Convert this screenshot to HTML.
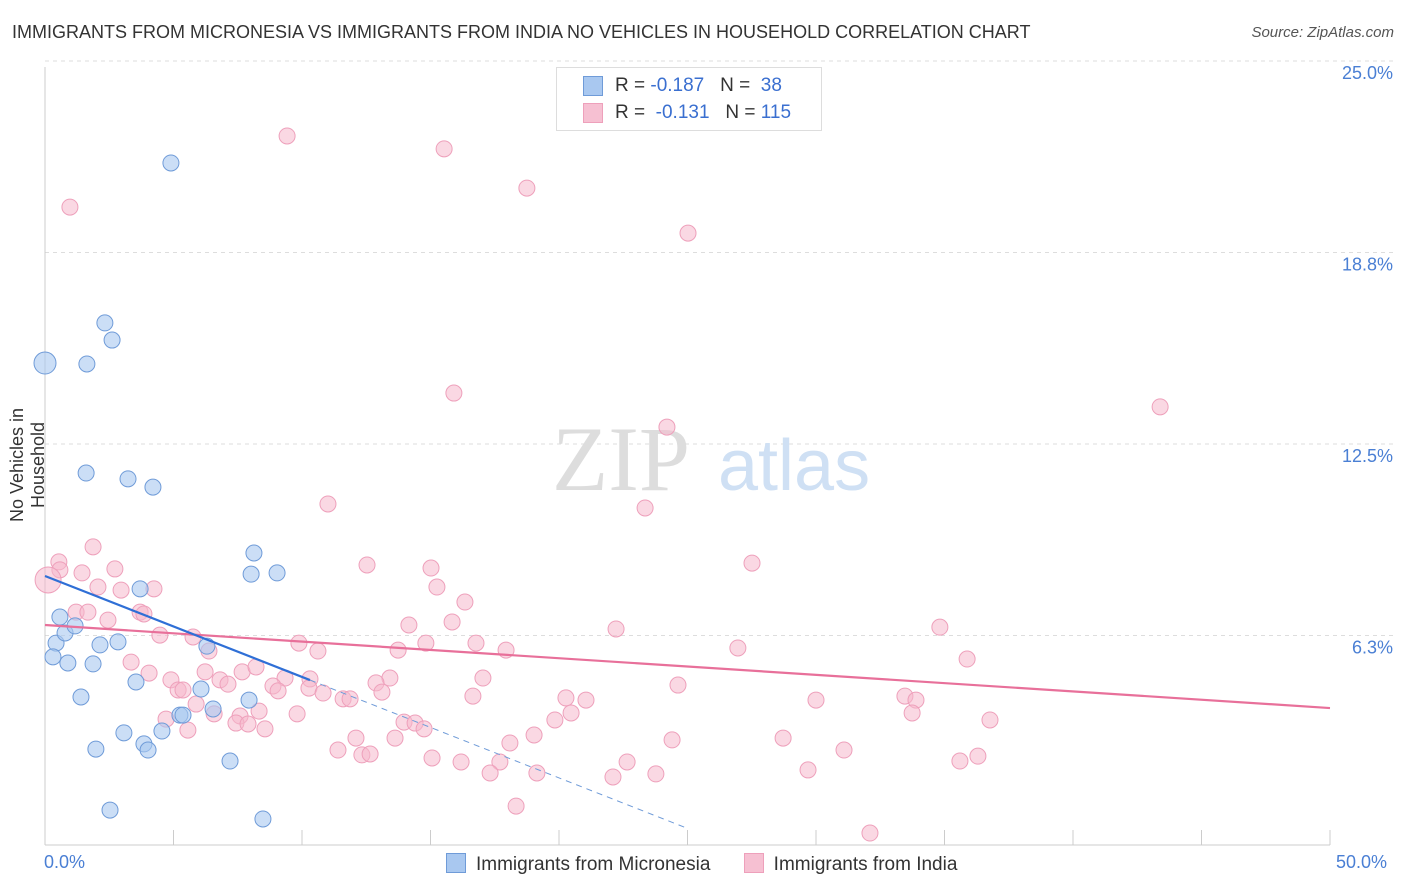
<!DOCTYPE html>
<html><head><meta charset="utf-8"><style>
body{margin:0;background:#fff;font-family:"Liberation Sans",sans-serif;}
#wrap{position:relative;width:1406px;height:892px;overflow:hidden;}
.title{position:absolute;left:12px;top:22px;font-size:18px;color:#333;}
.source{position:absolute;right:12px;top:24px;font-size:15px;color:#555;font-style:italic;}
</style></head><body>
<div id="wrap">
<div class="title">IMMIGRANTS FROM MICRONESIA VS IMMIGRANTS FROM INDIA NO VEHICLES IN HOUSEHOLD CORRELATION CHART</div>
<div class="source">Source: ZipAtlas.com</div>
<svg id="svg" width="1406" height="892" style="position:absolute;left:0;top:0"></svg>
</div>
<script>
const yTicks=[6.25,12.5,18.75,25];
const yTickLabels=["6.3%","12.5%","18.8%","25.0%"];
const xTickVals=[0,5,10,15,20,25,30,35,40,45,50];
const blueX=[0,4.9,2.33,2.61,1.63,1.6,3.23,4.2,8.13,8.02,9.03,3.7,0.58,0.43,0.78,1.17,2.14,2.84,6.3,0.31,0.89,1.87,3.54,6.07,1.4,7.94,6.54,5.25,5.37,3.07,4.55,3.85,4.01,1.98,7.2,2.53,8.48];
const blueY=[15.73,22.26,17.04,16.48,15.7,12.14,11.95,11.68,9.53,8.84,8.88,8.36,7.44,6.59,6.92,7.15,6.53,6.63,6.49,6.14,5.94,5.91,5.32,5.09,4.83,4.73,4.44,4.24,4.24,3.66,3.72,3.3,3.1,3.13,2.74,1.14,0.85];
const pinkX=[9.42,15.53,0.97,18.75,25.02,15.91,43.39,24.2,23.35,11.01,1.87,0.54,0.58,0.12,1.44,2.72,12.53,15.02,27.51,4.24,2.06,2.96,15.25,16.34,1.21,1.67,2.45,3.7,3.85,14.16,15.84,22.22,34.82,4.47,5.76,9.88,14.82,16.77,6.38,10.62,13.74,17.94,26.96,3.35,4.05,7.67,8.21,35.88,6.23,9.34,4.9,5.18,5.37,6.81,7.12,8.87,9.07,10.31,10.27,10.82,13.42,12.88,17.04,13.11,24.63,11.6,11.87,16.65,20.27,21.05,30,33.46,33.89,5.88,6.58,7.59,8.33,9.81,4.71,5.56,7.43,7.9,8.56,13.97,14.4,14.75,19.84,20.47,33.74,36.77,12.1,13.62,18.09,19.03,24.4,28.72,11.4,12.33,12.65,31.09,15.06,16.19,17.7,22.65,36.3,35.6,17.32,19.14,22.1,23.77,29.69,18.33,32.1];
const pinkY=[23.14,22.72,20.82,21.44,19.97,14.75,14.3,13.64,11,11.13,9.73,9.24,8.98,8.65,8.88,9.01,9.14,9.04,9.2,8.36,8.42,8.32,8.42,7.93,7.6,7.6,7.34,7.6,7.54,7.18,7.28,7.05,7.11,6.85,6.79,6.59,6.59,6.59,6.33,6.33,6.36,6.36,6.43,5.97,5.61,5.65,5.81,6.07,5.65,5.45,5.39,5.06,5.06,5.39,5.25,5.19,5.03,5.42,5.12,4.96,5.45,5.29,5.45,4.99,5.22,4.77,4.77,4.86,4.8,4.73,4.73,4.86,4.73,4.6,4.28,4.21,4.37,4.28,4.11,3.75,3.98,3.95,3.79,4.01,3.98,3.79,4.08,4.31,4.31,4.08,3.49,3.49,3.33,3.59,3.43,3.49,3.1,2.94,2.97,3.1,2.84,2.71,2.71,2.71,2.9,2.74,2.35,2.35,2.22,2.32,2.45,1.27,0.39];
const blueLine=[8.78,-0.3295]; // intercept, slope
const blueSolidEnd=10.31, blueDashEnd=25.04;
const pinkLine=[7.18,-0.0542];
const NS="http://www.w3.org/2000/svg";
const svg=document.getElementById('svg');
const X=v=>45+v*25.7, Y=v=>845-v*30.64;
function mk(tag,attrs,parent){const e=document.createElementNS(NS,tag);for(const k in attrs)e.setAttribute(k,attrs[k]);(parent||svg).appendChild(e);return e;}
// gridlines
yTicks.forEach((t,i)=>{
 const g=mk('line',{x1:45,x2:1395,y1:Y(t)-18,y2:Y(t)-18,stroke:'#ddd','stroke-dasharray':'4,4'});
 
 
 const l=mk('text',{x:1393,y:Y(t),'text-anchor':'end','font-size':18,fill:'#4a7fd4','font-family':'Liberation Sans'});
 l.textContent=yTickLabels[i];
 
 
});
mk('line',{x1:45,x2:45,y1:67,y2:845,stroke:'#ccc'});
mk('line',{x1:45,x2:1330,y1:845,y2:845,stroke:'#ccc'});
xTickVals.forEach(t=>{const k=mk('line',{x1:X(t),x2:X(t),y1:830,y2:845,stroke:'#ccc'});
 
 });
// watermark
const w=mk('text',{x:690,y:490,'text-anchor':'end','font-size':92,fill:'#ddd','font-family':'Liberation Serif'});w.textContent='ZIP';


const w2=mk('text',{x:718,y:490,'font-size':72,fill:'#cfe0f4','font-family':'Liberation Sans'});w2.textContent='atlas';


// points
pinkX.forEach((x,i)=>{const c=mk('circle',{cx:X(x),cy:Y(pinkY[i]),r:i==13?13:8,fill:'rgba(246,184,204,0.55)',stroke:'#eea0bb','stroke-width':1});
 
 });
blueX.forEach((x,i)=>{const c=mk('circle',{cx:X(x),cy:Y(blueY[i]),r:i==0?11:8,fill:'rgba(169,200,240,0.6)',stroke:'#6f9bd8','stroke-width':1});
 
 });
// regression lines
const pl=mk('line',{x1:X(0),y1:Y(pinkLine[0]),x2:X(50),y2:Y(pinkLine[0]+pinkLine[1]*50),stroke:'#e8709a','stroke-width':2.2});


const bl=mk('line',{x1:X(0),y1:Y(blueLine[0]),x2:X(blueSolidEnd),y2:Y(blueLine[0]+blueLine[1]*blueSolidEnd),stroke:'#2f6fd6','stroke-width':2.2});


const bd=mk('line',{x1:X(blueSolidEnd),y1:Y(blueLine[0]+blueLine[1]*blueSolidEnd),x2:X(blueDashEnd),y2:Y(blueLine[0]+blueLine[1]*blueDashEnd),stroke:'#6f9bd8','stroke-width':1,'stroke-dasharray':'6,5'});


</script>
<div style="position:absolute;left:44px;top:852px;font-size:18px;color:#4a7fd4;">0.0%</div>
<div style="position:absolute;left:1336px;top:852px;font-size:18px;color:#4a7fd4;">50.0%</div>
<div style="position:absolute;left:-72px;top:444px;width:200px;transform:rotate(-90deg);font-size:18px;color:#333;text-align:center;">No Vehicles in Household</div>
<div style="position:absolute;left:556px;top:67px;width:264px;height:62px;border:1px solid #ddd;background:#fff;font-size:19px;color:#333;">
 <div style="position:absolute;left:26px;top:8px;width:18px;height:18px;background:#a9c8f0;border:1px solid #6f9bd8"></div>
 <div style="position:absolute;left:58px;top:7px;">R = <span style="color:#3a6fd0">-0.187</span>&nbsp;&nbsp;&nbsp;N = &nbsp;<span style="color:#3a6fd0">38</span></div>
 <div style="position:absolute;left:26px;top:35px;width:18px;height:18px;background:#f6c0d2;border:1px solid #eea0bb"></div>
 <div style="position:absolute;left:58px;top:34px;">R = &nbsp;<span style="color:#3a6fd0">-0.131</span>&nbsp;&nbsp;&nbsp;N = <span style="color:#3a6fd0">115</span></div>
</div>
<div style="position:absolute;left:446px;top:853px;font-size:19px;color:#333;">
 <span><span style="display:inline-block;width:18px;height:18px;background:#a9c8f0;border:1px solid #6f9bd8;vertical-align:-3px;margin-right:10px"></span>Immigrants from Micronesia</span>
 <span style="margin-left:28px"><span style="display:inline-block;width:18px;height:18px;background:#f6c0d2;border:1px solid #eea0bb;vertical-align:-3px;margin-right:10px"></span>Immigrants from India</span>
</div>
</body></html>
